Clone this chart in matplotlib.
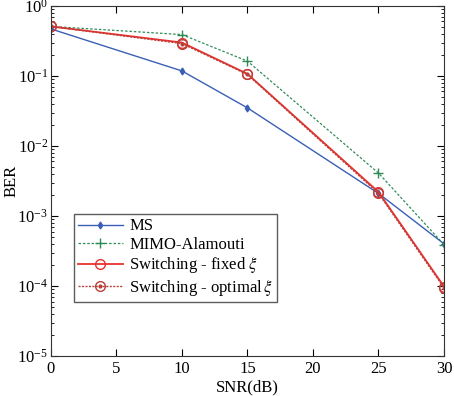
import matplotlib
matplotlib.use("Agg")
import matplotlib.pyplot as plt
from matplotlib.ticker import LogLocator, NullFormatter

plt.rcParams["font.family"] = ["Liberation Serif", "DejaVu Serif"]
plt.rcParams["mathtext.fontset"] = "stix"

snr = [0, 10, 15, 25, 30]
ber_ms = [0.47, 0.118, 0.035, 0.0021, 4.0e-4]
ber_mimo = [0.51, 0.39, 0.163, 0.0041, 3.9e-4]
ber_fixed = [0.51, 0.30, 0.107, 0.0022, 9.8e-5]
ber_optimal = [0.51, 0.29, 0.105, 0.0021, 9.4e-5]

fig = plt.figure(figsize=(4.54, 3.96), dpi=100)
ax = fig.add_axes([0.112, 0.101, 0.866, 0.884])

l_ms, = ax.semilogy(snr, ber_ms, color="#3a5fb5", lw=1.0, marker="d",
                    ms=3.5)
l_mimo, = ax.semilogy(snr, ber_mimo, color="#2e8b57", lw=0.9,
                      ls=(0, (2, 1.5)), marker="+", ms=7, mew=1.0)
l_fix, = ax.semilogy(snr, ber_fixed, color="#e8312f", lw=1.3, marker="o",
                     ms=7, mfc="none", mew=1.0)
l_opt, = ax.semilogy(snr, ber_optimal, color="#b8403a", lw=1.0,
                     ls=(0, (1.5, 1)), marker="o", ms=7, mfc="none", mew=1.0)
l_dot, = ax.semilogy(snr, ber_optimal, ls="none", marker=".", ms=4,
                     color="#b8403a")

ax.set_xlim(0, 30)
ax.set_ylim(1e-5, 1)
ax.set_xticks([0, 5, 10, 15, 20, 25, 30])
ax.yaxis.set_major_locator(LogLocator(base=10, numticks=10))
ax.yaxis.set_minor_locator(LogLocator(base=10, subs=range(2, 10), numticks=10))
ax.yaxis.set_minor_formatter(NullFormatter())
ax.tick_params(which="both", direction="in", top=True, right=True,
               labelsize=12)
ax.tick_params(axis="y", pad=2)
ax.tick_params(which="major", length=5)
ax.tick_params(which="minor", length=2.5)
for sp in ax.spines.values():
    sp.set_linewidth(0.8)
    sp.set_color("#333333")

ax.set_xlabel("SNR(dB)", fontsize=12, labelpad=2)
ax.set_ylabel("BER", fontsize=12, va="center")
ax.yaxis.set_label_coords(-0.1, 0.5)

leg = ax.legend([l_ms, l_mimo, l_fix, (l_opt, l_dot)],
                ["MS", "MIMO-Alamouti", r"Switching - fixed $\xi$",
                 r"Switching - optimal$\,\xi$"],
                loc="lower left", bbox_to_anchor=(0.058, 0.154),
                fontsize=12, frameon=True, fancybox=False,
                handlelength=2.7, borderpad=0.25, labelspacing=0.15,
                handletextpad=0.4, borderaxespad=0)
leg.get_frame().set_edgecolor("#333333")
leg.get_frame().set_linewidth(1.0)

fig.savefig("out.png", dpi=100)
